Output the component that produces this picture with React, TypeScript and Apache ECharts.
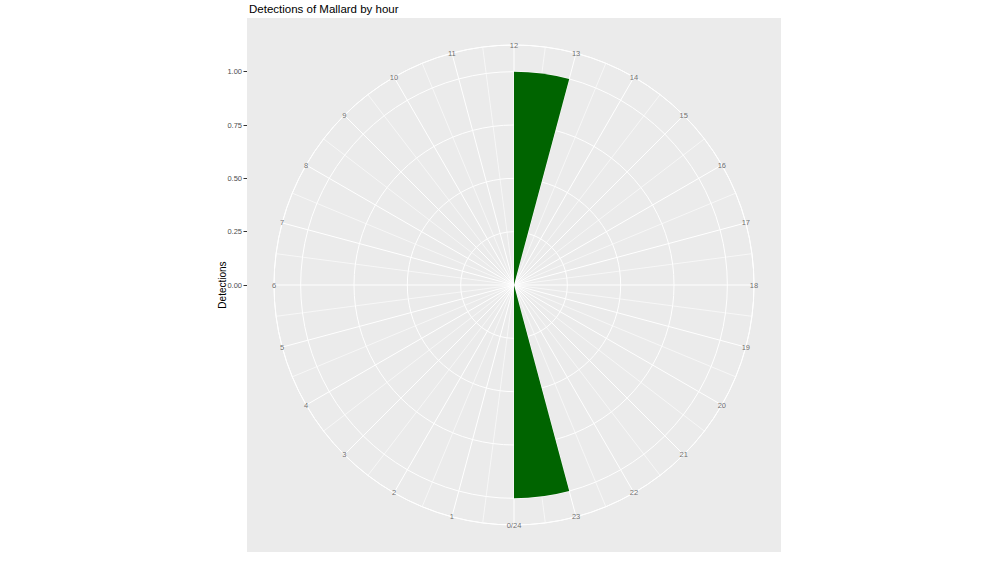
import React, { useEffect, useRef } from "react";
import * as echarts from "echarts";

// Data
const hours: number[] = [12, 23];
const detections: number[] = [1, 1];
const hourTicks: number[] = Array.from({ length: 24 }, (_, i) => i);
const hourLabels: string[] = [
  "0/24", "1", "2", "3", "4", "5", "6", "7", "8", "9", "10", "11",
  "12", "13", "14", "15", "16", "17", "18", "19", "20", "21", "22", "23",
];
const radialTicks: number[] = [0, 0.25, 0.5, 0.75, 1.0];
const titleText = "Detections of Mallard by hour";
const yTitle = "Detections";

const FONT = "Liberation Sans, Arial, Helvetica, sans-serif";

export default function App() {
  const ref = useRef<HTMLDivElement>(null);

  useEffect(() => {
    if (!ref.current) return;
    const chart = echarts.init(ref.current, null, { renderer: "svg" });

    const cx = 514;
    const cy = 285;
    const outerR = 240;
    const rMax = 1.125;
    const pxPerUnit = outerR / rMax;
    const panelTop = 18;
    const panelH = 534;
    const yTopVal = (cy - panelTop) / pxPerUnit;
    const yBotVal = -(panelTop + panelH - cy) / pxPerUnit;

    const option: any = {
      animation: false,
      backgroundColor: "#ffffff",
      textStyle: { fontFamily: FONT },
      title: {
        text: titleText,
        left: 244,
        top: -2,
        textStyle: { fontSize: 11.5, fontWeight: "normal", color: "#000000", fontFamily: FONT },
      },
      grid: {
        left: 247,
        top: panelTop,
        width: 534,
        height: panelH,
        show: true,
        backgroundColor: "#EBEBEB",
        borderWidth: 0,
        z: -1,
      },
      xAxis: { type: "value", show: false, min: 0, max: 1 },
      yAxis: {
        type: "value",
        min: yBotVal,
        max: yTopVal,
        position: "left",
        axisLine: { show: false },
        splitLine: { show: false },
        axisTick: {
          show: true,
          length: 3.5,
          customValues: radialTicks,
          lineStyle: { color: "#333333", width: 1 },
        },
        axisLabel: {
          show: true,
          customValues: radialTicks,
          formatter: (v: number) => v.toFixed(2),
          color: "#4d4d4d",
          fontSize: 7.5,
          margin: 5,
          fontFamily: FONT,
        },
        name: yTitle,
        nameLocation: "middle",
        nameGap: 20,
        nameMoveOverlap: false,
        nameRotate: 90,
        nameTextStyle: { fontSize: 10, color: "#000000", fontFamily: FONT },
      },
      polar: { center: [cx, cy], radius: outerR },
      angleAxis: {
        type: "value",
        min: 0,
        max: 24,
        interval: 1,
        startAngle: 270,
        clockwise: true,
        axisLine: { show: true, lineStyle: { color: "#ffffff", width: 1 } },
        axisTick: { show: false },
        axisLabel: { show: false },
        splitLine: { show: true, lineStyle: { color: "#ffffff", width: 1 } },
        minorTick: { show: false, splitNumber: 2 },
        minorSplitLine: { show: true, lineStyle: { color: "#ffffff", width: 0.6 } },
      },
      radiusAxis: {
        type: "value",
        min: 0,
        max: rMax,
        interval: 0.25,
        axisLine: { show: false },
        axisTick: { show: false },
        axisLabel: { show: false },
        splitLine: { show: true, lineStyle: { color: "#ffffff", width: 1 } },
      },
      series: [
        {
          type: "custom",
          coordinateSystem: "polar",
          data: hours.map((h, i) => [detections[i], h]),
          encode: { radius: 0, angle: 1 },
          silent: true,
          z: 3,
          renderItem: (params: any, api: any) => {
            const val = api.value(0) as number;
            const h = api.value(1) as number;
            const p0 = api.coord([val, h]);
            const p1 = api.coord([val, h + 1]);
            const c = api.coord([0, h]);
            const r = Math.hypot(p0[0] - c[0], p0[1] - c[1]);
            let a0 = Math.atan2(p0[1] - c[1], p0[0] - c[0]);
            let a1 = Math.atan2(p1[1] - c[1], p1[0] - c[0]);
            if (a1 < a0) a1 += Math.PI * 2;
            return {
              type: "sector",
              shape: { cx: c[0], cy: c[1], r0: 0, r, startAngle: a0, endAngle: a1, clockwise: true },
              style: { fill: "#006400" },
            };
          },
        },
        {
          type: "scatter",
          coordinateSystem: "polar",
          symbolSize: 0,
          silent: true,
          data: hourTicks.map((h, i) => ({ value: [rMax, h], name: hourLabels[i] })),
          label: {
            show: true,
            position: "inside",
            formatter: "{b}",
            color: "#4d4d4d",
            textBorderWidth: 0,
            textBorderColor: "transparent",
            fontSize: 7.5,
            fontFamily: FONT,
          },
          z: 4,
        },
      ],
    };

    chart.setOption(option);
    return () => chart.dispose();
  }, []);

  return (
    <div
      ref={ref}
      style={{ position: "fixed", left: 0, top: 0, width: 1000, height: 573 }}
    />
  );
}
